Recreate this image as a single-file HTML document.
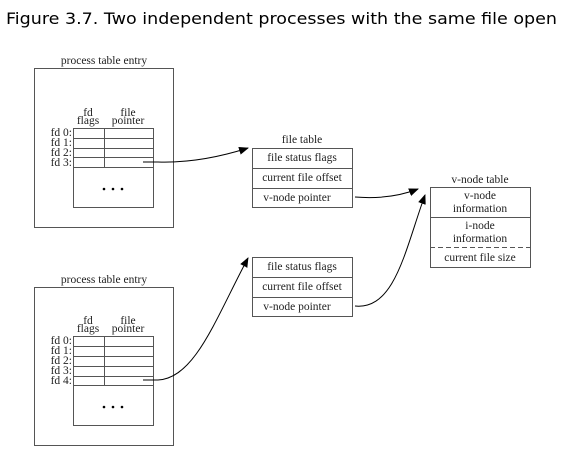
<!DOCTYPE html>
<html><head><style>body{margin:0;background:#fff}svg{display:block}</style></head>
<body>
<svg width="563" height="450" xmlns="http://www.w3.org/2000/svg">
<text x="6" y="24" font-family="DejaVu Sans, sans-serif" font-size="16" textLength="551" lengthAdjust="spacingAndGlyphs" fill="#000">Figure 3.7. Two independent processes with the same file open</text>
<defs><marker id="a" markerWidth="10" markerHeight="8" refX="9" refY="4" orient="auto" markerUnits="userSpaceOnUse"><path d="M0,0 L10,4 L0,8 z" fill="#000"/></marker></defs>
<g font-family="Liberation Serif, serif" font-size="11.5" fill="#222" text-anchor="middle">
<text x="104" y="64">process table entry</text>
<rect x="34.5" y="68.5" width="139" height="159" fill="none" stroke="#555"/>
<text x="88" y="116">fd</text><text x="88" y="124">flags</text>
<text x="128" y="116">file</text><text x="128" y="124">pointer</text>
<rect x="73.5" y="128.5" width="80" height="79" fill="none" stroke="#555"/>
<path d="M73 138.5H153M73 148.5H153M73 157.5H153M73 167.5H153M104.5 128V167" stroke="#555"/>
<g text-anchor="end"><text x="72" y="136">fd 0:</text><text x="72" y="146">fd 1:</text><text x="72" y="156">fd 2:</text><text x="72" y="166">fd 3:</text></g>
<g fill="#000"><circle cx="104" cy="189" r="1.3"/><circle cx="113" cy="189" r="1.3"/><circle cx="122" cy="189" r="1.3"/></g>
<text x="104" y="283">process table entry</text>
<rect x="34.5" y="287.5" width="139" height="158" fill="none" stroke="#555"/>
<text x="88" y="324">fd</text><text x="88" y="332">flags</text>
<text x="128" y="324">file</text><text x="128" y="332">pointer</text>
<rect x="73.5" y="336.5" width="80" height="89" fill="none" stroke="#555"/>
<path d="M73 346.5H153M73 356.5H153M73 366.5H153M73 376.5H153M73 385.5H153M104.5 336V385" stroke="#555"/>
<g text-anchor="end"><text x="72" y="344">fd 0:</text><text x="72" y="354">fd 1:</text><text x="72" y="364">fd 2:</text><text x="72" y="374">fd 3:</text><text x="72" y="384">fd 4:</text></g>
<g fill="#000"><circle cx="104" cy="407" r="1.3"/><circle cx="113" cy="407" r="1.3"/><circle cx="122" cy="407" r="1.3"/></g>
<text x="302" y="143">file table</text>
<rect x="252.5" y="148.5" width="100" height="59" fill="#fff" stroke="#555"/>
<path d="M252 168.5H352M252 188.5H352" stroke="#555"/>
<text x="302" y="161">file status flags</text>
<text x="302" y="181">current file offset</text>
<text x="297" y="201">v-node pointer</text>
<rect x="252.5" y="257.5" width="100" height="59" fill="#fff" stroke="#555"/>
<path d="M252 277.5H352M252 297.5H352" stroke="#555"/>
<text x="302" y="270">file status flags</text>
<text x="302" y="290">current file offset</text>
<text x="297" y="310">v-node pointer</text>
<text x="480" y="183">v-node table</text>
<rect x="430.5" y="187.5" width="100" height="80" fill="#fff" stroke="#555"/>
<path d="M430 217.5H530" stroke="#555"/>
<path d="M430 247.5H530" stroke="#555" stroke-dasharray="5,3"/>
<text x="480" y="199">v-node</text><text x="480" y="212">information</text>
<text x="480" y="229">i-node</text><text x="480" y="242">information</text>
<text x="480" y="261">current file size</text>
</g>
<g fill="none" stroke="#000" stroke-width="1">
<path d="M143 162 L158 162 C190 163 220 157 248 148" marker-end="url(#a)"/>
<path d="M143 380 L158 380 C195 378 215 320 248 258" marker-end="url(#a)"/>
<path d="M355 197 C380 199 400 196 418 189" marker-end="url(#a)"/>
<path d="M355 306 C395 310 405 250 425 195" marker-end="url(#a)"/>
</g>
</svg>
</body></html>
